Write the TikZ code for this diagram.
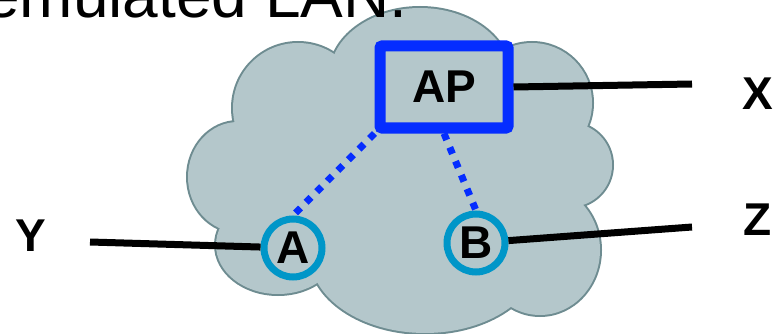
\documentclass[tikz,border=0pt]{standalone}
\usepackage{fontspec}
\setmainfont{Liberation Sans}
\definecolor{cloudfill}{RGB}{180,199,203}
\definecolor{cloudline}{RGB}{110,140,145}
\definecolor{apblue}{RGB}{5,45,255}
\definecolor{stationblue}{RGB}{0,150,200}
\tikzset{
  lbl/.style={font=\fontsize{46}{50}\bfseries\selectfont, inner sep=0pt},
  apbox/.style={draw=apblue, line width=11pt, rounded corners=2pt, minimum width=128pt,
    minimum height=82pt, inner sep=0pt, font=\fontsize{46}{50}\bfseries\selectfont},
  station/.style={circle, draw=stationblue, line width=7pt, minimum size=58pt, inner sep=0pt,
    font=\fontsize{46}{50}\bfseries\selectfont},
  wire/.style={line width=7pt, black},
  radio/.style={apblue, line width=7pt, dash pattern=on 7pt off 8pt},
  titletext/.style={anchor=base west, inner sep=0pt, font=\fontsize{64}{70}\selectfont},
}
\begin{document}
\begin{tikzpicture}[x=1pt,y=1pt]
\useasboundingbox (0,0) rectangle (773,-334);
\clip (0,0) rectangle (773,-334);
% cloud: outline then fill
\def\cloudbumps{298/-108/65/65, 420/-75/90/67, 532/-103/60/60, 570/-165/42/42, 540/-250/60/65, 425/-255/115/78, 278/-245/62/49, 238/-177/50/55, 400/-180/180/110}
\foreach \cx/\cy/\rx/\ry in \cloudbumps
  \draw[cloudline, line width=4pt] (\cx,\cy) ellipse [x radius=\rx, y radius=\ry];
\foreach \cx/\cy/\rx/\ry in \cloudbumps
  \fill[cloudfill] (\cx,\cy) ellipse [x radius=\rx, y radius=\ry];
% title text
\node[titletext] (title) at (-16,-17.5) {emulated LAN.};
% nodes
\node[apbox] (AP) at (444,-87) {AP};
\node[station] (A) at (293,-248) {A};
\node[station] (B) at (476,-243) {B};
\coordinate (xend) at (692,-84);
\coordinate (yend) at (90,-242);
\coordinate (zend) at (692,-227);
\node[lbl] (X) at (758,-94) {X};
\node[lbl] (Y) at (31,-236) {Y};
\node[lbl] (Z) at (758,-220) {Z};
% connectors
\draw[wire] (AP.east) -- (xend);
\draw[wire] (yend) -- (A);
\draw[wire] (B) -- (zend);
\draw[radio] (AP.south west) -- (A.north);
\draw[radio] (AP.south) -- (B.north);
\end{tikzpicture}
\end{document}
